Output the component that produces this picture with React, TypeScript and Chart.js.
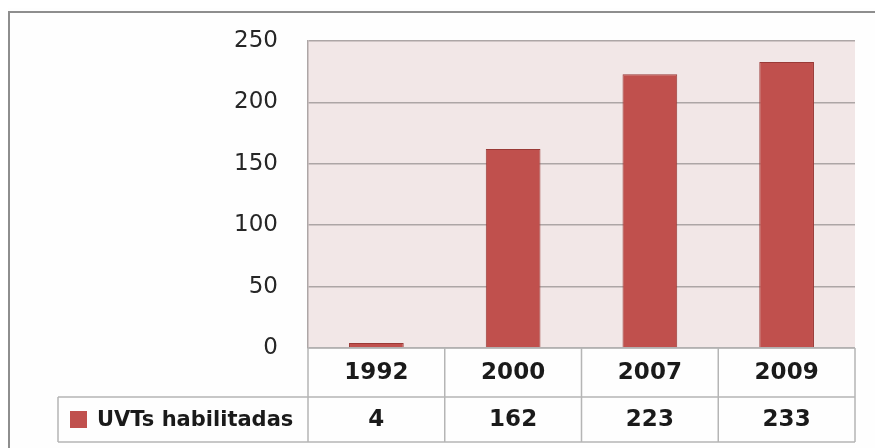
import React, { useEffect, useRef } from "react";
import { Chart, registerables } from "chart.js";

Chart.register(...registerables);

const categories = ["1992", "2000", "2007", "2009"];
const seriesName = "UVTs habilitadas";
const values = [4, 162, 223, 233];
const yTicks = [0, 50, 100, 150, 200, 250];

const BAR_COLOR = "#C0504D";
const BAR_BORDER = "#9A3A37";
const PLOT_BG = "#F2E7E7";
const GRID = "#ADA6A6";
const TABLE_LINE = "#B5B5B5";
const FONT = "'DejaVu Sans', sans-serif";

const decorPlugin = {
  id: "decor",
  beforeDraw(chart: any) {
    const { ctx, chartArea } = chart;
    ctx.save();
    ctx.fillStyle = "#FEFEFE";
    ctx.fillRect(0, 0, chart.width, chart.height);
    ctx.fillStyle = PLOT_BG;
    ctx.fillRect(chartArea.left, chartArea.top, chartArea.right - chartArea.left, chartArea.bottom - chartArea.top);
    ctx.restore();
  },
  afterDraw(chart: any) {
    const { ctx, chartArea } = chart;
    const xs = chart.scales.x;
    const n = categories.length;
    const left = chartArea.left;
    const right = chartArea.right;
    const colW = (right - left) / n;
    const top = chartArea.bottom;
    const mid = top + 49;
    const bottom = top + 94;
    const legendLeft = 50;
    ctx.save();
    // clear right margin
    ctx.fillStyle = "#FEFEFE";
    ctx.fillRect(right + 1, 6, chart.width - right, chart.height);
    // outer border (left and top only)
    ctx.strokeStyle = "#8E8E8E";
    ctx.lineWidth = 2;
    ctx.beginPath();
    ctx.moveTo(1, chart.height);
    ctx.lineTo(1, 4);
    ctx.lineTo(chart.width, 4);
    ctx.stroke();

    ctx.strokeStyle = TABLE_LINE;
    ctx.lineWidth = 1.5;
    ctx.beginPath();
    ctx.moveTo(left, top);
    ctx.lineTo(right, top);
    ctx.moveTo(legendLeft, mid);
    ctx.lineTo(right, mid);
    ctx.moveTo(legendLeft, bottom);
    ctx.lineTo(right, bottom);
    ctx.moveTo(legendLeft, mid);
    ctx.lineTo(legendLeft, bottom);
    for (let i = 0; i <= n; i++) {
      const x = left + i * colW;
      ctx.moveTo(x, top);
      ctx.lineTo(x, bottom);
    }
    ctx.stroke();

    ctx.fillStyle = "#1A1A1A";
    ctx.textAlign = "center";
    ctx.textBaseline = "middle";
    ctx.font = `bold 23px ${FONT}`;
    categories.forEach((c, i) => {
      const x = xs.getPixelForValue(i);
      ctx.fillText(c, x, (top + mid) / 2 + 1);
      ctx.fillText(String(values[i]), x, (mid + bottom) / 2 + 1);
    });
    const sq = 17;
    const sy = (mid + bottom) / 2 - sq / 2;
    ctx.fillStyle = BAR_COLOR;
    ctx.fillRect(62, sy, sq, sq);
    ctx.fillStyle = "#1A1A1A";
    ctx.textAlign = "left";
    ctx.font = `bold 21px ${FONT}`;
    ctx.fillText(seriesName, 89, (mid + bottom) / 2 + 1);
    ctx.restore();
  },
};

export default function App() {
  const ref = useRef<HTMLCanvasElement>(null);
  useEffect(() => {
    if (!ref.current) return;
    const chart = new Chart(ref.current, {
      type: "bar",
      data: {
        labels: categories,
        datasets: [
          {
            label: seriesName,
            data: values,
            backgroundColor: BAR_COLOR,
            borderColor: BAR_BORDER,
            borderWidth: 1,
            barPercentage: 0.4,
            categoryPercentage: 1,
          },
        ],
      },
      options: {
        animation: false,
        responsive: true,
        maintainAspectRatio: false,
        layout: { autoPadding: false, padding: { left: 0, right: 20, top: 33, bottom: 100 } },
        plugins: { legend: { display: false }, tooltip: { enabled: false } },
        scales: {
          x: { display: false },
          y: {
            min: 0,
            max: 250,
            afterFit: (scale: any) => {
              scale.width = 300;
              scale.paddingTop = 0;
              scale.paddingBottom = 0;
            },
            afterBuildTicks: (scale: any) => {
              scale.ticks = yTicks.map((v) => ({ value: v }));
            },
            ticks: {
              padding: 30,
              color: "#262626",
              font: { family: FONT, size: 23 },
            },
            grid: { color: GRID, lineWidth: 1.5, drawTicks: false },
            border: { display: true, color: GRID, width: 1.5 },
          },
        },
      },
      plugins: [decorPlugin],
    });
    return () => chart.destroy();
  }, []);
  return (
    <div style={{ position: "absolute", left: 8, top: 8, width: 867, height: 440 }}>
      <canvas ref={ref} />
    </div>
  );
}
